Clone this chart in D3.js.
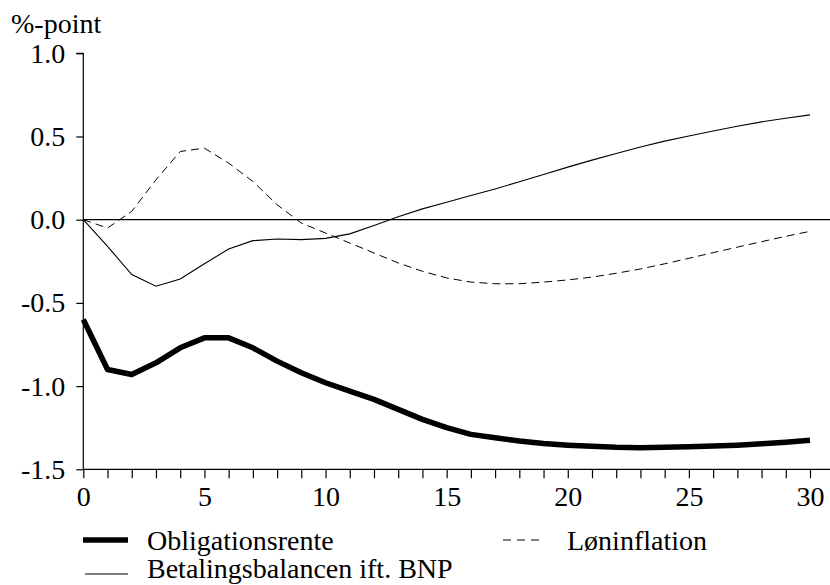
<!DOCTYPE html>
<html><head><meta charset="utf-8"><script src="https://cdn.jsdelivr.net/npm/d3@7"></script></head>
<body style="margin:0">
<svg width="830" height="585" id="s"></svg>
<script>
// ---- data ----
const periods = d3.range(0, 31);
const obligationsrente = [-0.60, -0.90, -0.93, -0.86, -0.77, -0.71, -0.71, -0.77, -0.85, -0.92,
  -0.98, -1.03, -1.08, -1.14, -1.20, -1.25, -1.29, -1.31, -1.33, -1.345,
  -1.355, -1.362, -1.368, -1.37, -1.368, -1.365, -1.36, -1.355, -1.347, -1.338, -1.326];
const loninflation = [0.00, -0.05, 0.05, 0.24, 0.41, 0.43, 0.34, 0.23, 0.09, -0.02,
  -0.08, -0.14, -0.20, -0.26, -0.31, -0.35, -0.375, -0.385, -0.385, -0.375,
  -0.362, -0.345, -0.322, -0.296, -0.265, -0.232, -0.198, -0.165, -0.132, -0.10, -0.07];
const betalingsbalance = [0.00, -0.16, -0.33, -0.40, -0.356, -0.265, -0.176, -0.126, -0.116, -0.12,
  -0.112, -0.085, -0.035, 0.018, 0.065, 0.105, 0.145, 0.185, 0.228, 0.272,
  0.316, 0.358, 0.398, 0.437, 0.472, 0.503, 0.533, 0.562, 0.588, 0.61, 0.63];
const yTicks = [1.0, 0.5, 0.0, -0.5, -1.0, -1.5];
const xTicksMajor = [0, 5, 10, 15, 20, 25, 30];
const xTicksMinor = d3.range(0, 31);
const yLabel = "%-point";
const legendNames = ["Obligationsrente", "Løninflation", "Betalingsbalancen ift. BNP"];

// ---- layout ----
const svg = d3.select("#s");
const x0 = 83.3, x30 = 810, yTop = 53.3, yBot = 469.3;
const x = d3.scaleLinear().domain([0, 30]).range([x0, x30]);
const y = d3.scaleLinear().domain([-1.5, 1.0]).range([yBot, yTop]);
const fs = 28;

function txt(sel) {
  return sel.attr("font-size", fs).style("font-family", '"Liberation Serif"').attr("fill", "#000");
}

// y axis
const yAxis = d3.axisLeft(y).tickValues(yTicks).tickSize(7).tickPadding(11)
  .tickFormat(d => d3.format(".1f")(d).replace("\u2212", "-"));
const gy = svg.append("g").attr("transform", `translate(${x0},0)`).call(yAxis);
gy.select(".domain").attr("d", `M-7,${yTop}H0V${yBot}`).attr("stroke", "#000").attr("stroke-width", 1.2);
gy.selectAll(".tick line").attr("stroke", "#000").attr("stroke-width", 1.2);
txt(gy.selectAll(".tick text"));

// x axis (minor ticks every 1, labels at multiples of 5)
const xAxis = d3.axisBottom(x).tickValues(xTicksMinor).tickSize(9).tickPadding(8)
  .tickFormat(d => xTicksMajor.includes(d) ? d : "");
const gx = svg.append("g").attr("transform", `translate(0,${yBot})`).call(xAxis);
gx.select(".domain").attr("d", `M${x0},0H830`).attr("stroke", "#000").attr("stroke-width", 1.2);
gx.selectAll(".tick line").attr("stroke", "#000").attr("stroke-width", 1.2);
txt(gx.selectAll(".tick text"));

// zero line
svg.append("line").attr("x1", x0).attr("x2", 830).attr("y1", y(0)).attr("y2", y(0))
  .attr("stroke", "#000").attr("stroke-width", 1.3);

// y label
txt(svg.append("text").attr("x", 11).attr("y", 33)).text(yLabel);

// lines
const line = d3.line().x((d, i) => x(periods[i])).y(d => y(d));
svg.append("path").datum(loninflation).attr("d", line).attr("fill", "none")
  .attr("stroke", "#000").attr("stroke-width", 1).attr("stroke-dasharray", "8,5");
svg.append("path").datum(betalingsbalance).attr("d", line).attr("fill", "none")
  .attr("stroke", "#000").attr("stroke-width", 1.1);
svg.append("path").datum(obligationsrente).attr("d", line).attr("fill", "none")
  .attr("stroke", "#000").attr("stroke-width", 5.5).attr("stroke-linejoin", "round");

// legend
const leg = svg.append("g");
leg.append("line").attr("x1", 83).attr("x2", 128).attr("y1", 540).attr("y2", 540)
  .attr("stroke", "#000").attr("stroke-width", 5.5);
txt(leg.append("text").attr("x", 147).attr("y", 550)).text(legendNames[0]);
leg.append("line").attr("x1", 503).attr("x2", 543).attr("y1", 540).attr("y2", 540)
  .attr("stroke", "#000").attr("stroke-width", 1).attr("stroke-dasharray", "8,6");
txt(leg.append("text").attr("x", 567).attr("y", 550)).text(legendNames[1]);
leg.append("line").attr("x1", 85).attr("x2", 128).attr("y1", 574).attr("y2", 574)
  .attr("stroke", "#000").attr("stroke-width", 1.1);
txt(leg.append("text").attr("x", 147).attr("y", 578)).text(legendNames[2]);
</script></body></html>
